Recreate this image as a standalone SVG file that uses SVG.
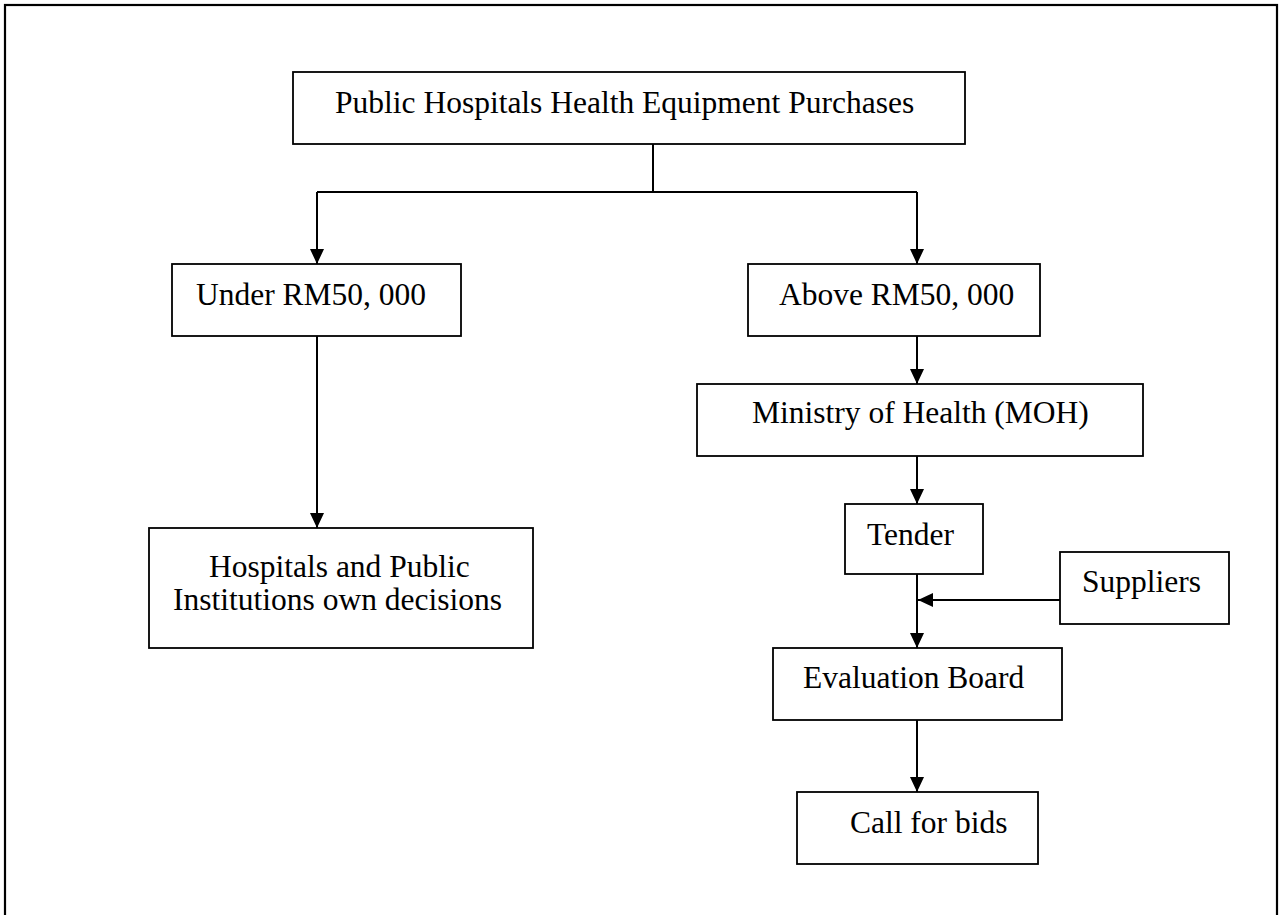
<svg xmlns="http://www.w3.org/2000/svg" width="1282" height="915" viewBox="0 0 1282 915">
<style>
.box{fill:#fff;stroke:#000;stroke-width:1.8}
.t{font-family:"Liberation Serif","Times New Roman",serif;font-size:31.5px;fill:#000}
.c{fill:none;stroke:#000;stroke-width:2}
</style>
<defs>
<marker id="ah" markerUnits="userSpaceOnUse" markerWidth="16" markerHeight="14" refX="15" refY="7" orient="auto">
<path d="M0,0 L15,7 L0,14 z" fill="#000"/>
</marker>
</defs>
<rect width="1282" height="915" fill="#fff"/>
<rect x="5" y="5" width="1272" height="930" fill="none" stroke="#000" stroke-width="2.2"/>
<g id="connectors">
<path class="c" d="M653,144 V192 M317,192 H917"/>
<path class="c" d="M317,192 V264" marker-end="url(#ah)"/>
<path class="c" d="M917,192 V264" marker-end="url(#ah)"/>
<path class="c" d="M317,336 V528" marker-end="url(#ah)"/>
<path class="c" d="M917,336 V384" marker-end="url(#ah)"/>
<path class="c" d="M917,456 V504" marker-end="url(#ah)"/>
<path class="c" d="M917,574 V648" marker-end="url(#ah)"/>
<path class="c" d="M1060,600 H918" marker-end="url(#ah)"/>
<path class="c" d="M917,720 V792" marker-end="url(#ah)"/>
</g>
<g id="top"><rect class="box" x="293" y="72" width="672" height="72"/><text class="t" x="335" y="113">Public Hospitals Health Equipment Purchases</text></g>
<g id="under"><rect class="box" x="172" y="264" width="289" height="72"/><text class="t" x="196" y="305">Under RM50, 000</text></g>
<g id="above"><rect class="box" x="748" y="264" width="292" height="72"/><text class="t" x="779" y="305">Above RM50, 000</text></g>
<g id="hospitals"><rect class="box" x="149" y="528" width="384" height="120"/><text class="t" x="209" y="577">Hospitals and Public</text><text class="t" x="173" y="610">Institutions own decisions</text></g>
<g id="moh"><rect class="box" x="697" y="384" width="446" height="72"/><text class="t" x="752" y="423">Ministry of Health (MOH)</text></g>
<g id="tender"><rect class="box" x="845" y="504" width="138" height="70"/><text class="t" x="867" y="545">Tender</text></g>
<g id="suppliers"><rect class="box" x="1060" y="552" width="169" height="72"/><text class="t" x="1082" y="592">Suppliers</text></g>
<g id="evaluation"><rect class="box" x="773" y="648" width="289" height="72"/><text class="t" x="803" y="688">Evaluation Board</text></g>
<g id="callforbids"><rect class="box" x="797" y="792" width="241" height="72"/><text class="t" x="850" y="833">Call for bids</text></g>
</svg>
